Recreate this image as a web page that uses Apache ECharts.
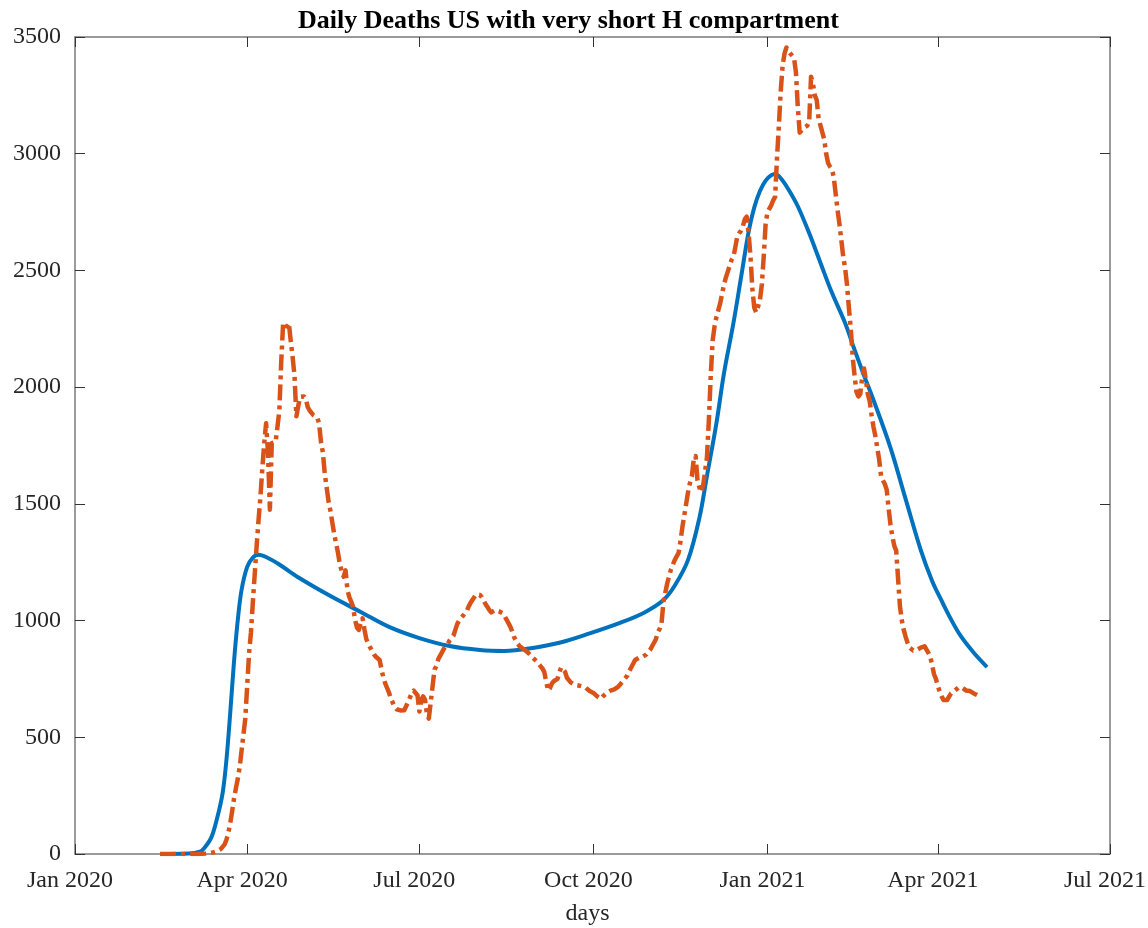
<!DOCTYPE html>
<html>
<head>
<meta charset="utf-8">
<title>Daily Deaths US with very short H compartment</title>
<script src="https://cdn.jsdelivr.net/npm/echarts@6/dist/echarts.min.js"></script>
<style>
  html, body { margin: 0; padding: 0; background: #ffffff; }
  #chart { width: 1148px; height: 928px; }
</style>
</head>
<body>
<div id="chart"></div>
<script>
// Model output (solid blue): date, daily deaths
const modelDeaths = [
  ['2020-02-15', 0], ['2020-03-01', 2], ['2020-03-07', 10], ['2020-03-09', 22],
  ['2020-03-13', 70], ['2020-03-16', 150], ['2020-03-19', 260], ['2020-03-21', 400],
  ['2020-03-23', 600], ['2020-03-25', 820], ['2020-03-27', 1000], ['2020-03-29', 1130],
  ['2020-04-01', 1230], ['2020-04-04', 1270], ['2020-04-07', 1282], ['2020-04-12', 1268],
  ['2020-04-18', 1240], ['2020-04-29', 1180], ['2020-05-15', 1105], ['2020-05-31', 1037],
  ['2020-06-15', 973], ['2020-07-01', 925], ['2020-07-17', 891], ['2020-08-02', 874],
  ['2020-08-15', 870], ['2020-08-28', 880], ['2020-09-13', 905], ['2020-09-29', 945],
  ['2020-10-15', 990], ['2020-10-28', 1035], ['2020-11-07', 1088], ['2020-11-13', 1150],
  ['2020-11-20', 1260], ['2020-11-26', 1440], ['2020-11-30', 1620], ['2020-12-05', 1846],
  ['2020-12-09', 2060], ['2020-12-14', 2275], ['2020-12-18', 2470], ['2020-12-22', 2665],
  ['2020-12-25', 2770], ['2020-12-28', 2840], ['2020-12-31', 2885], ['2021-01-03', 2908],
  ['2021-01-05', 2913], ['2021-01-08', 2895], ['2021-01-12', 2848], ['2021-01-17', 2775],
  ['2021-01-23', 2660], ['2021-01-29', 2532], ['2021-02-04', 2405], ['2021-02-11', 2275],
  ['2021-02-16', 2160], ['2021-02-21', 2050], ['2021-02-26', 1945], ['2021-03-07', 1740],
  ['2021-03-15', 1520], ['2021-03-23', 1302], ['2021-03-29', 1170], ['2021-04-03', 1085],
  ['2021-04-08', 1005], ['2021-04-13', 935], ['2021-04-20', 862], ['2021-04-27', 801]
];

// Reported daily deaths (dash-dot orange), one value per day from reportedStart
const reportedStart = [2020, 1, 15]; // year, month index, day
const reportedDeaths = [
  0,0,0,0,0,0,0,0,0,0,0,0,0,0,0,0,0,0,0,0,0,
  1,1,2,2,3,4,5,7,
  9,12,16,21,27,40,60,90,130,180,235,280,320,370,440,510,580,720,860,950,1080,1200,1320,1430,1530,1650,1760,1845,
  1720,1475,1760,1760,1765,1830,1900,2110,2275,2280,2260,2275,2200,2130,2050,1875,1920,1958,1950,1960,
  1950,1915,1900,1890,1880,1875,1870,1845,1765,1720,1630,1570,1510,1470,1420,1370,1330,1290,1240,1210,
  1188,1215,1130,1100,1080,1058,1003,970,960,990,1010,960,920,900,885,870,855,845,838,831,
  790,755,730,710,690,665,647,630,620,617,615,617,616,620,650,670,690,700,695,680,
  610,660,675,660,600,580,650,720,790,805,835,850,865,880,888,900,915,925,935,960,
  985,1000,1010,1020,1030,1040,1060,1075,1088,1100,1112,1118,1110,1100,1085,1070,1058,1045,1035,1035,
  1045,1045,1040,1035,1032,1020,1005,990,975,955,930,915,900,890,885,878,870,866,860,850,
  840,832,825,815,805,795,780,740,700,710,730,740,745,750,780,800,805,780,755,745,
  735,728,725,724,722,720,718,716,712,705,698,694,690,682,675,670,665,675,681,690,
  697,700,703,705,712,716,725,735,745,750,765,785,800,815,831,836,840,842,845,850,
  855,861,875,890,905,920,950,965,990,1080,1120,1160,1190,1220,1240,1260,1275,1290,1340,1400,
  1450,1500,1550,1590,1617,1690,1705,1600,1570,1550,1580,1640,1700,1860,2050,2200,2260,2300,2330,2360,
  2400,2440,2470,2495,2520,2545,2560,2600,2645,2660,2670,2690,2720,2730,2660,2560,2420,2340,2320,2345,
  2374,2440,2560,2700,2750,2765,2780,2800,2815,2980,3120,3270,3380,3430,3455,3440,3430,3420,3410,3350,
  3200,3090,3100,3110,3115,3120,3135,3330,3300,3250,3230,3150,3120,3090,3060,3000,2960,2945,2935,2900,
  2830,2760,2700,2630,2560,2510,2440,2340,2250,2130,2050,1980,1960,1970,2040,2080,2030,1970,1940,1880,
  1830,1790,1740,1690,1620,1600,1585,1560,1480,1410,1360,1320,1300,1180,1060,1000,960,930,905,885,
  878,872,870,875,880,884,888,890,885,862,845,810,770,750,720,695,675,660,652,660,
  675,688,695,700,708,714,718,712,705,700,702,698,692,688,684,680
];

// Axis ticks: quarter starts, and y ticks
const xTickDates = [[2020, 0], [2020, 3], [2020, 6], [2020, 9], [2021, 0], [2021, 3], [2021, 6]];
const monthNames = ['Jan', 'Feb', 'Mar', 'Apr', 'May', 'Jun', 'Jul', 'Aug', 'Sep', 'Oct', 'Nov', 'Dec'];
const yMax = 3500;
const yStep = 500;

// Dates are handled as millisecond timestamps on a linear axis
const toTime = (s) => {
  const [y, m, d] = s.split('-').map(Number);
  return new Date(y, m - 1, d).getTime();
};
const xTicks = xTickDates.map(([y, m]) => new Date(y, m, 1).getTime());
const xMin = xTicks[0];
const xMax = xTicks[xTicks.length - 1];

const modelSeries = modelDeaths.map(([s, v]) => [toTime(s), v]);
const reportedSeries = reportedDeaths.map((v, i) =>
  [new Date(reportedStart[0], reportedStart[1], reportedStart[2] + i).getTime(), v]);

const FONT = '"Liberation Serif", "Times New Roman", serif';
const axisLineStyle = { color: '#7a7a7a', width: 1.5 };
const tickStyle = { color: '#333333', width: 1 };

const fmtDate = (val) => {
  const d = new Date(val);
  return monthNames[d.getMonth()] + ' ' + d.getFullYear();
};

const chart = echarts.init(document.getElementById('chart'), null, { renderer: 'canvas' });

chart.setOption({
  backgroundColor: '#ffffff',
  animation: false,
  title: {
    text: 'Daily Deaths US with very short H compartment',
    left: 293,
    top: 3,
    textStyle: { fontFamily: FONT, fontWeight: 'bold', fontSize: 26, color: '#000000' }
  },
  grid: { left: 75, right: 38, top: 37, bottom: 74, containLabel: false, outerBoundsMode: 'none' },
  xAxis: [
    {
      type: 'value',
      position: 'bottom',
      min: xMin,
      max: xMax,
      name: 'days',
      nameLocation: 'middle',
      nameGap: 48,
      nameTextStyle: { fontFamily: FONT, fontSize: 24, color: '#262626', padding: [0, 10, 0, 0] },
      axisLine: { show: true, onZero: false, lineStyle: axisLineStyle },
      axisTick: { show: true, inside: true, length: 10, lineStyle: tickStyle, customValues: xTicks },
      axisLabel: {
        show: true, margin: 15, customValues: xTicks,
        fontFamily: FONT, fontSize: 24, color: '#262626',
        padding: [0, 10, 0, 0],
        formatter: fmtDate, hideOverlap: false
      },
      splitLine: { show: false }
    },
    {
      type: 'value',
      position: 'top',
      min: xMin,
      max: xMax,
      axisLine: { show: true, onZero: false, lineStyle: axisLineStyle },
      axisTick: { show: true, inside: true, length: 10, lineStyle: tickStyle, customValues: xTicks },
      axisLabel: { show: false },
      splitLine: { show: false }
    }
  ],
  yAxis: [
    {
      type: 'value',
      position: 'left',
      min: 0,
      max: yMax,
      interval: yStep,
      axisLine: { show: true, onZero: false, lineStyle: axisLineStyle },
      axisTick: { show: true, inside: true, length: 10, lineStyle: tickStyle },
      axisLabel: {
        margin: 14, fontFamily: FONT, fontSize: 24, color: '#262626',
        formatter: (v) => String(v)
      },
      splitLine: { show: false }
    },
    {
      type: 'value',
      position: 'right',
      min: 0,
      max: yMax,
      interval: yStep,
      axisLine: { show: true, onZero: false, lineStyle: axisLineStyle },
      axisTick: { show: true, inside: true, length: 10, lineStyle: tickStyle },
      axisLabel: { show: false },
      splitLine: { show: false }
    }
  ],
  series: [
    {
      name: 'model',
      type: 'line',
      xAxisIndex: 0,
      yAxisIndex: 0,
      data: modelSeries,
      showSymbol: false,
      smooth: 0.35,
      lineStyle: { color: '#0072BD', width: 4 },
      z: 2
    },
    {
      name: 'reported',
      type: 'line',
      xAxisIndex: 0,
      yAxisIndex: 0,
      data: reportedSeries,
      showSymbol: false,
      lineStyle: { color: '#D95319', width: 4.5, type: [16, 5, 4, 5], cap: 'butt', join: 'round' },
      z: 3
    }
  ]
});
</script>
</body>
</html>
